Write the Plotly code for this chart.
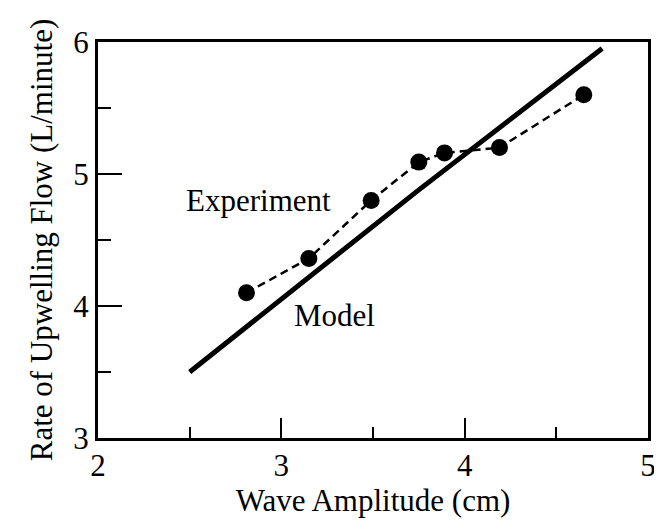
import plotly.graph_objects as go

# Experiment: measured upwelling flow vs wave amplitude
exp_amp = [2.81, 3.15, 3.49, 3.75, 3.89, 4.19, 4.65]
exp_flow = [4.10, 4.36, 4.80, 5.09, 5.16, 5.20, 5.60]

# Model prediction
model_amp = [2.5, 3.75, 4.75]
model_flow = [3.50, 4.88, 5.95]

x_ticks = [2, 3, 4, 5]
y_ticks = [3, 4, 5, 6]

FONT = "Liberation Serif, Times New Roman, serif"

fig = go.Figure()

fig.add_trace(go.Scatter(
    x=model_amp, y=model_flow, mode="lines",
    line=dict(color="black", width=5),
    name="Model", showlegend=False,
))

fig.add_trace(go.Scatter(
    x=exp_amp, y=exp_flow, mode="lines+markers",
    line=dict(color="black", width=2.5, dash="8px,5px"),
    marker=dict(color="black", size=17),
    name="Experiment", showlegend=False,
))

fig.add_annotation(x=2.47, y=4.80, text="Experiment", showarrow=False,
                   xanchor="left", yanchor="middle", font=dict(size=31))
fig.add_annotation(x=3.06, y=3.93, text="Model", showarrow=False,
                   xanchor="left", yanchor="middle", font=dict(size=31))

axis_common = dict(
    showline=True, linecolor="black", linewidth=3, mirror=True,
    showgrid=False, zeroline=False,
    ticks="inside", tickcolor="black", tickwidth=1.5,
    tickfont=dict(size=31, color="black"),
)

fig.update_xaxes(
    range=[2, 5], tickvals=x_ticks, ticklen=20, ticklabelstandoff=-2,
    minor=dict(dtick=0.5, tick0=2, ticks="inside", ticklen=11, tickcolor="black", tickwidth=1.5),
    title=dict(text="Wave Amplitude (cm)", font=dict(size=31, color="black"), standoff=0),
    **axis_common,
)
fig.update_yaxes(
    range=[3, 6], tickvals=y_ticks, ticklen=24,
    minor=dict(dtick=0.5, tick0=3, ticks="inside", ticklen=13, tickcolor="black", tickwidth=1.5),
    title=dict(text="Rate of Upwelling Flow (L/minute)", font=dict(size=31, color="black"), standoff=12),
    **axis_common,
)

fig.update_layout(
    width=662, height=527,
    margin=dict(l=90, r=22, t=34, b=97),
    plot_bgcolor="white", paper_bgcolor="white",
    font=dict(family=FONT, color="black"),
)

fig.write_html("out.html")
